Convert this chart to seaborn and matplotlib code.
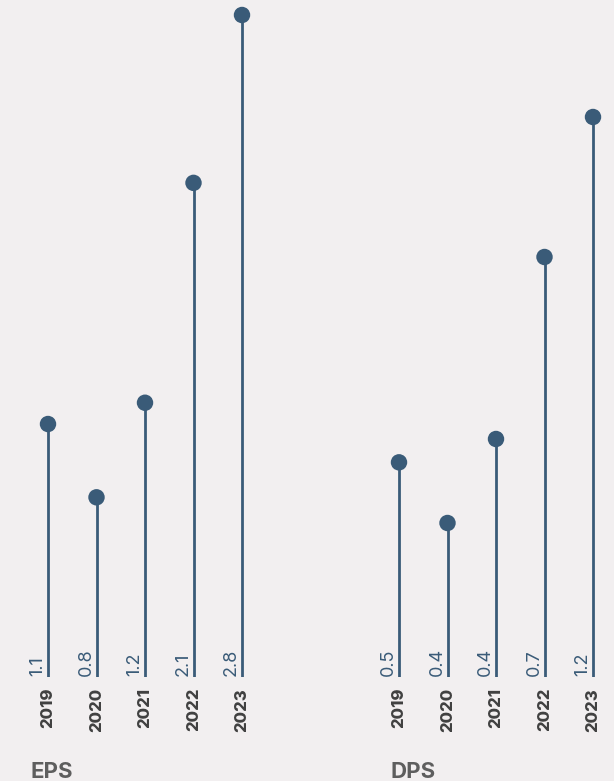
import matplotlib
matplotlib.use("Agg")
import matplotlib.pyplot as plt
import seaborn as sns
import numpy as np

# data
years = ["2019", "2020", "2021", "2022", "2023"]
eps_values = [1.07, 0.76, 1.16, 2.09, 2.8]
eps_labels = ["1.1", "0.8", "1.2", "2.1", "2.8"]
dps_values = [0.46, 0.33, 0.51, 0.90, 1.2]
dps_labels = ["0.5", "0.4", "0.4", "0.7", "1.2"]

BG = "#f2eff0"
STEM = "#3a5b78"
YEAR_COLOR = "#404040"
TITLE_COLOR = "#5e5e5e"

W, H = 614, 781


def px_axes(fig, left, bottom_y, width, height):
    # pixel rect (top-left origin) -> figure fraction
    return fig.add_axes([left / W, (H - bottom_y) / H, width / W, height / H])


def lollipop(fig, ax, values, labels, ymax, title, title_x):
    idx = np.arange(len(values))

    # stems
    ax.vlines(idx, 0, values, color=STEM, lw=2.0, zorder=2)

    # heads
    sns.scatterplot(x=idx, y=values, ax=ax, s=140, color=STEM,
                    edgecolor="none", zorder=3, clip_on=False, legend=False)

    for i, (lab, yr) in enumerate(zip(labels, years)):
        # value label, left of the stem
        ax.annotate(lab, xy=(i, 0), xytext=(-2, 1), textcoords="offset pixels",
                    rotation=90, ha="right", va="bottom", fontsize=13,
                    color=STEM, annotation_clip=False)
        # year label below
        ax.annotate(yr, xy=(i, 0), xytext=(0, -11), textcoords="offset pixels",
                    rotation=90, ha="center", va="top", fontsize=12,
                    fontweight="heavy", color=YEAR_COLOR, annotation_clip=False)

    ax.set_xlim(-0.5, 4.5)
    ax.set_ylim(0, ymax)
    ax.axis("off")

    fig.text(title_x / W, (H - 778) / H, title, fontsize=16, fontweight="bold",
             color=TITLE_COLOR, ha="left", va="baseline")


def main():
    sns.set_theme(style="white")
    plt.rcParams["font.family"] = ["Inter", "DejaVu Sans"]

    fig = plt.figure(figsize=(W / 100, H / 100), dpi=100, facecolor=BG)

    ax_eps = px_axes(fig, 23.75, 677, 242.5, 662)
    ax_dps = px_axes(fig, 374.75, 677, 242.5, 662)

    lollipop(fig, ax_eps, eps_values, eps_labels, 2.8, "EPS", 30)
    lollipop(fig, ax_dps, dps_values, dps_labels, 1.2 * 662 / 560, "DPS", 391)

    fig.savefig("out.png", dpi=100, facecolor=BG)


if __name__ == "__main__":
    main()
